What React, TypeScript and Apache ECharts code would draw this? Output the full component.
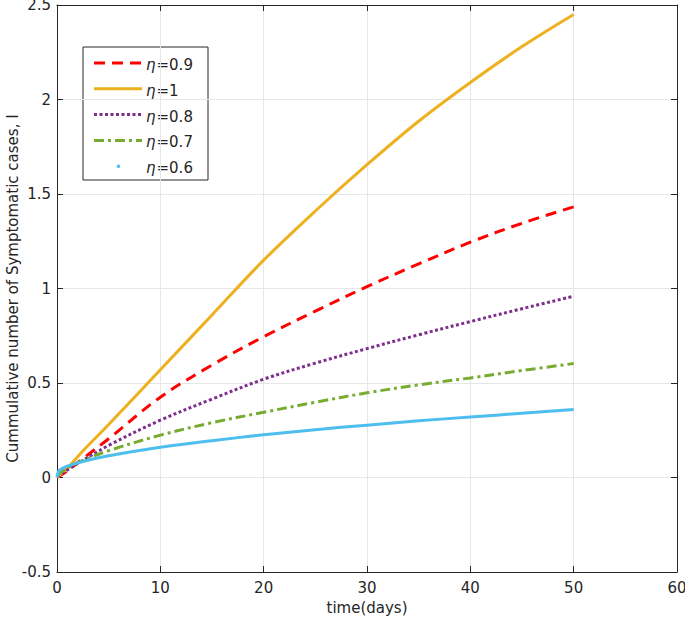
import React, { useEffect, useRef } from "react";
import * as echarts from "echarts";

// ---- data ----
const days = [0, 1, 2.5, 5, 10, 15, 20, 25, 30, 35, 40, 45, 50];
const eta09 = [0, 0.035, 0.1, 0.205, 0.425, 0.595, 0.745, 0.88, 1.01, 1.13, 1.245, 1.345, 1.432];
const eta10 = [0, 0.05, 0.14, 0.28, 0.57, 0.86, 1.15, 1.41, 1.655, 1.885, 2.09, 2.28, 2.45];
const eta08 = [0.005, 0.04, 0.09, 0.17, 0.303, 0.415, 0.52, 0.605, 0.682, 0.755, 0.825, 0.893, 0.959];
const eta07 = [0.01, 0.05, 0.09, 0.142, 0.224, 0.29, 0.345, 0.398, 0.448, 0.49, 0.527, 0.566, 0.603];
const days06 = [0, 0.2, 1, 2.5, 5, 10, 15, 20, 25, 30, 35, 40, 45, 50];
const eta06 = [0, 0.035, 0.06, 0.085, 0.115, 0.16, 0.195, 0.226, 0.253, 0.277, 0.3, 0.32, 0.34, 0.36];
const seriesLabels = ["0.9", "1", "0.8", "0.7", "0.6"];

const FONT = "DejaVu Sans";
const INK = "#262626";

const seriesDefs = [
  { label: seriesLabels[0], x: days, y: eta09, color: "#FF0000", dash: [11, 7] as number[] | null, dot: false },
  { label: seriesLabels[1], x: days, y: eta10, color: "#EDB120", dash: null, dot: false },
  { label: seriesLabels[2], x: days, y: eta08, color: "#7E2F8E", dash: [3, 2.5], dot: false },
  { label: seriesLabels[3], x: days, y: eta07, color: "#77AC30", dash: [10, 4, 3, 4], dot: false },
  { label: seriesLabels[4], x: days06, y: eta06, color: "#4DBEEE", dash: null, dot: true },
];

export default function App() {
  const ref = useRef<HTMLDivElement>(null);
  useEffect(() => {
    if (!ref.current) return;
    const chart = echarts.init(ref.current, undefined, { renderer: "svg" });

    const gridL = 57, gridR = 8, gridT = 5, gridB = 50;

    const series = seriesDefs.map((d) => ({
      name: "η=" + d.label,
      type: "line",
      xAxisIndex: 0,
      yAxisIndex: 0,
      data: d.x.map((xv, i) => [xv, d.y[i]]),
      smooth: 0.35,
      showSymbol: false,
      symbol: "none",
      lineStyle: {
        color: d.color,
        width: 3,
        type: d.dash ? d.dash : "solid",
        cap: "butt",
      },
      itemStyle: { color: d.color },
      z: 3,
    }));

    // legend box drawn with graphic elements
    const lgX = 83, lgY = 47, lgW = 125, lgH = 133;
    const rowY0 = 63, rowStep = 25.8;
    const legendChildren: any[] = [
      {
        type: "rect",
        shape: { x: lgX, y: lgY, width: lgW, height: lgH },
        style: { fill: "#ffffff", stroke: INK, lineWidth: 1 },
      },
    ];
    seriesDefs.forEach((d, i) => {
      const y = rowY0 + i * rowStep;
      if (d.dot) {
        legendChildren.push({
          type: "circle",
          shape: { cx: 118.5, cy: y, r: 1.8 },
          style: { fill: d.color },
        });
      } else {
        legendChildren.push({
          type: "line",
          shape: { x1: 94, y1: y, x2: 142, y2: y },
          style: { stroke: d.color, lineWidth: 3, lineDash: d.dash || null },
        });
      }
      legendChildren.push({
        type: "text",
        x: 146,
        y: y + 2,
        style: {
          text: "{i|η}{n|=" + d.label + "}",
          fill: INK,
          fontFamily: FONT,
          fontSize: 15,
          verticalAlign: "middle",
          align: "left",
          rich: {
            i: { fontStyle: "italic", fontFamily: FONT, fontSize: 15, fill: INK, padding: [0, 1, 0, 0] },
            n: { fontFamily: FONT, fontSize: 15, fill: INK },
          },
        },
      });
    });

    const axisCommon = {
      type: "value",
      axisLine: { show: true, onZero: false, lineStyle: { color: INK, width: 1 } },
      axisTick: { show: true, inside: true, length: 6, lineStyle: { color: INK, width: 1 } },
    };

    chart.setOption({
      animation: false,
      backgroundColor: "#ffffff",
      grid: {
        left: gridL,
        right: gridR,
        top: gridT,
        bottom: gridB,
        containLabel: false,
        outerBoundsMode: "none",
      },
      xAxis: [
        {
          ...axisCommon,
          position: "bottom",
          min: 0,
          max: 60,
          interval: 10,
          name: "time(days)",
          nameLocation: "middle",
          nameGap: 28,
          nameMoveOverlap: false,
          nameTextStyle: { color: INK, fontFamily: FONT, fontSize: 15 },
          axisLabel: { color: INK, fontFamily: FONT, fontSize: 15, margin: 8 },
          splitLine: { show: true, lineStyle: { color: "#e6e6e6", width: 1 } },
        },
        {
          ...axisCommon,
          position: "top",
          min: 0,
          max: 60,
          interval: 10,
          axisLabel: { show: false },
          splitLine: { show: false },
        },
      ],
      yAxis: [
        {
          ...axisCommon,
          position: "left",
          min: -0.5,
          max: 2.5,
          interval: 0.5,
          name: "Cummulative number of Symptomatic cases, I",
          nameLocation: "middle",
          nameGap: 37,
          nameMoveOverlap: false,
          nameTextStyle: { color: INK, fontFamily: FONT, fontSize: 15 },
          axisLabel: { color: INK, fontFamily: FONT, fontSize: 15, margin: 6 },
          splitLine: { show: true, lineStyle: { color: "#e6e6e6", width: 1 } },
        },
        {
          ...axisCommon,
          position: "right",
          min: -0.5,
          max: 2.5,
          interval: 0.5,
          axisLabel: { show: false },
          splitLine: { show: false },
        },
      ],
      series,
      graphic: [{ type: "group", children: legendChildren, z: 100 }],
    });

    return () => chart.dispose();
  }, []);

  return (
    <div
      ref={ref}
      style={{ position: "fixed", left: 0, top: 0, width: 685, height: 622, background: "#fff" }}
    />
  );
}
